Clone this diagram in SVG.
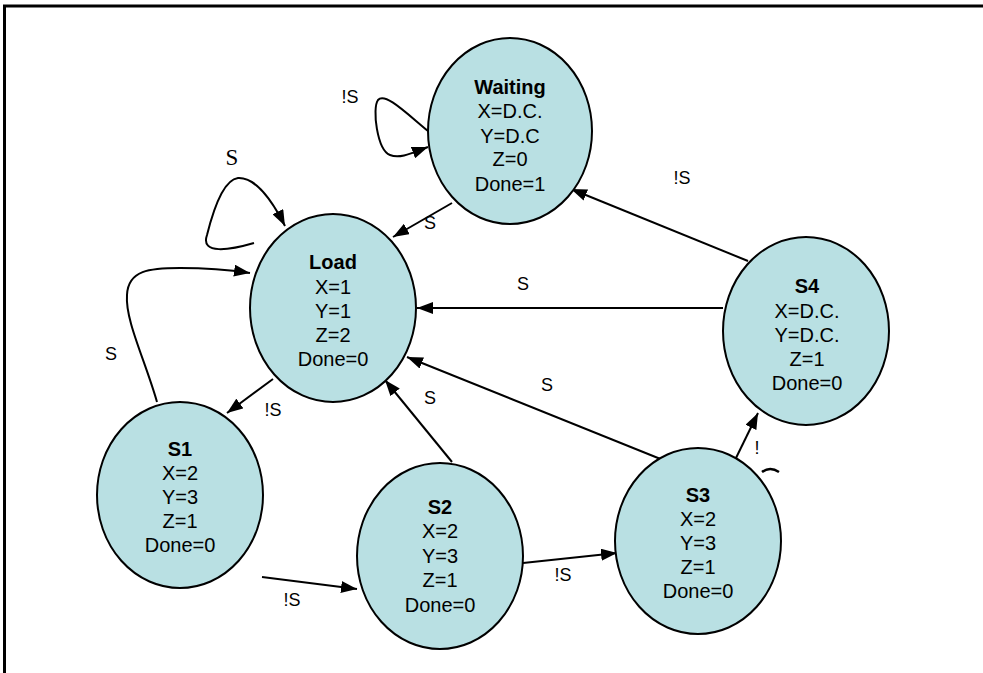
<svg xmlns="http://www.w3.org/2000/svg" width="983" height="673" viewBox="0 0 983 673">
<defs>
<marker id="ah" markerUnits="userSpaceOnUse" markerWidth="16" markerHeight="12" refX="16" refY="6" orient="auto">
<path d="M0,0 L16,6 L0,12 z" fill="#000"/>
</marker>
<style>
.st{fill:#b9e0e3;stroke:#000;stroke-width:2}
.t{font-family:"Liberation Sans",Arial,sans-serif;font-size:20px;text-anchor:middle;fill:#000}
.b{font-weight:bold}
.c{fill:none;stroke:#000;stroke-width:2;marker-end:url(#ah)}
.l{font-family:"Liberation Sans",Arial,sans-serif;font-size:18px;text-anchor:middle;fill:#000}
.ls{font-family:"Liberation Serif","Times New Roman",serif;font-size:23px;text-anchor:middle;fill:#000}
</style>
</defs>
<rect width="983" height="673" fill="#fff"/>
<path d="M4.5 673 L4.5 6 L983 6" fill="none" stroke="#000" stroke-width="3"/>

<g id="connectors">
<path class="c" d="M428 131 C405 112,385 92,378 100 C372 108,377 150,390 155 C400 159,412 153,428 147"/>
<path class="c" d="M254 243 C230 250,200 255,207 235 C212 215,222 180,238 178 C255 177,272 200,285 226"/>
<path class="c" d="M452 203 L393 237"/>
<path class="c" d="M157 402 C145 360,125 320,127 295 C128 270,150 268,180 268 C205 268,230 270,250 273"/>
<path class="c" d="M273 379 L227 413"/>
<path class="c" d="M262 577 L357 589"/>
<path class="c" d="M452 462 L385 380"/>
<path class="c" d="M663 460 L407 357"/>
<path class="c" d="M723 308 L417 308"/>
<path class="c" d="M748 261 L571 189"/>
<path class="c" d="M523 563 L617 553"/>
<path class="c" d="M735 460 L758 413"/>
<path d="M762 472 Q770 466 779 472" fill="none" stroke="#000" stroke-width="2.5"/>
<text class="l" x="350" y="103">!S</text>
<text class="ls" x="232" y="165">S</text>
<text class="l" x="430" y="229">S</text>
<text class="l" x="111" y="360">S</text>
<text class="l" x="273" y="416">!S</text>
<text class="l" x="292" y="606">!S</text>
<text class="l" x="430" y="404">S</text>
<text class="l" x="547" y="391">S</text>
<text class="l" x="523" y="290">S</text>
<text class="l" x="682" y="184">!S</text>
<text class="l" x="563" y="581">!S</text>
<text class="l" x="757" y="454">!</text>
</g>

<g id="waiting">
<ellipse class="st" cx="510" cy="131" rx="82" ry="93"/>
<text class="t b" x="510" y="94">Waiting</text>
<text class="t" x="510" y="118">X=D.C.</text>
<text class="t" x="510" y="143">Y=D.C</text>
<text class="t" x="510" y="166">Z=0</text>
<text class="t" x="510" y="191">Done=1</text>
</g>
<g id="load">
<ellipse class="st" cx="333" cy="308" rx="83" ry="94"/>
<text class="t b" x="333" y="269">Load</text>
<text class="t" x="333" y="294">X=1</text>
<text class="t" x="333" y="318">Y=1</text>
<text class="t" x="333" y="342">Z=2</text>
<text class="t" x="333" y="366">Done=0</text>
</g>
<g id="s1">
<ellipse class="st" cx="180" cy="495" rx="83" ry="93"/>
<text class="t b" x="180" y="456">S1</text>
<text class="t" x="180" y="480">X=2</text>
<text class="t" x="180" y="504">Y=3</text>
<text class="t" x="180" y="528">Z=1</text>
<text class="t" x="180" y="552">Done=0</text>
</g>
<g id="s2">
<ellipse class="st" cx="440" cy="556" rx="83" ry="93"/>
<text class="t b" x="440" y="514">S2</text>
<text class="t" x="440" y="538">X=2</text>
<text class="t" x="440" y="563">Y=3</text>
<text class="t" x="440" y="587">Z=1</text>
<text class="t" x="440" y="612">Done=0</text>
</g>
<g id="s3">
<ellipse class="st" cx="698" cy="541" rx="83" ry="93"/>
<text class="t b" x="698" y="502">S3</text>
<text class="t" x="698" y="526">X=2</text>
<text class="t" x="698" y="550">Y=3</text>
<text class="t" x="698" y="574">Z=1</text>
<text class="t" x="698" y="598">Done=0</text>
</g>
<g id="s4">
<ellipse class="st" cx="806" cy="331" rx="83" ry="94"/>
<text class="t b" x="807" y="293">S4</text>
<text class="t" x="807" y="318">X=D.C.</text>
<text class="t" x="807" y="342">Y=D.C.</text>
<text class="t" x="807" y="366">Z=1</text>
<text class="t" x="807" y="390">Done=0</text>
</g>
</svg>
